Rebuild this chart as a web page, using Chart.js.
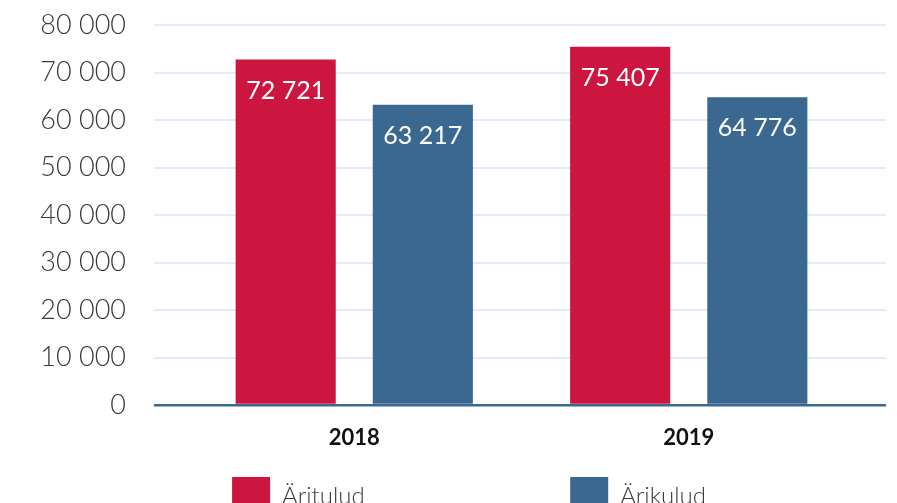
<!DOCTYPE html>
<html>
<head>
<meta charset="utf-8">
<script src="https://cdn.jsdelivr.net/npm/chart.js@4/dist/chart.umd.min.js"></script>
<style>
  html, body { margin: 0; padding: 0; background: #fff; overflow: hidden; }
  #wrap { width: 897px; height: 525px; position: relative; }
</style>
</head>
<body>
<div id="wrap"><canvas id="chart"></canvas></div>
<script>
const years = ['2018', '2019'];
const aritulud = [72721, 75407];
const arikulud = [63217, 64776];
const seriesNames = ['Äritulud', 'Ärikulud'];
const yMax = 80000;
const yStep = 10000;

const RED = '#cc1640';
const BLUE = '#3b6891';
const GRID = '#e1ebf7';

const fmt = v => String(v).replace(/\B(?=(\d{3})+(?!\d))/g, ' ');

const gridColor = c => (c.tick && c.tick.value === 0 ? BLUE : GRID);
const gridWidth = c => (c.tick && c.tick.value === 0 ? 2.5 : 2);

// white value labels inside the bar tops
const valueLabels = {
  id: 'valueLabels',
  afterDatasetsDraw(chart) {
    const ctx = chart.ctx;
    ctx.save();
    ctx.fillStyle = '#fff';
    ctx.font = '400 25px Lato';
    ctx.textAlign = 'center';
    ctx.textBaseline = 'middle';
    chart.data.datasets.forEach((ds, i) => {
      chart.getDatasetMeta(i).data.forEach((bar, j) => {
        ctx.fillText(fmt(ds.data[j]), bar.x, bar.y + 31);
      });
    });
    ctx.restore();
  }
};

const legendFont = { family: 'Lato', weight: '300', size: 24 };
// text widths the two legend entries are stretched to
const legendTextWidths = [262, 240];

new Chart(document.getElementById('chart'), {
  type: 'bar',
  data: {
    labels: years,
    datasets: [{
      label: seriesNames[0],
      data: aritulud,
      backgroundColor: RED,
      borderWidth: 0
    }, {
      label: seriesNames[1],
      data: arikulud,
      backgroundColor: BLUE,
      borderWidth: 0
    }]
  },
  options: {
    responsive: true,
    maintainAspectRatio: false,
    animation: false,
    categoryPercentage: 0.82,
    barPercentage: 0.73,
    layout: { padding: { top: 25, right: 11, left: 0, bottom: 0 } },
    scales: {
      x: {
        offset: true,
        grid: { display: false, drawTicks: false },
        border: { display: false },
        ticks: {
          padding: 20,
          color: '#111',
          font: { family: 'Lato', weight: '700', size: 22 }
        },
        afterFit: s => { s.height = 45; }
      },
      y: {
        min: 0,
        max: yMax,
        ticks: {
          stepSize: yStep,
          padding: 28,
          color: '#3a3a3a',
          font: { family: 'Lato', weight: '300', size: 27 },
          callback: v => fmt(v)
        },
        grid: { color: gridColor, lineWidth: gridWidth, tickLength: 33 },
        border: { display: false },
        afterFit: s => {
          s.width = 187;
          s.paddingTop = 0;
          s.paddingBottom = 0;
        }
      },
      y2: {
        position: 'right',
        min: 0,
        max: yMax,
        ticks: { display: false, stepSize: yStep },
        grid: { drawOnChartArea: false, color: gridColor, lineWidth: gridWidth, tickLength: 30 },
        border: { display: false },
        afterFit: s => { s.width = 30; }
      }
    },
    plugins: {
      tooltip: { enabled: false },
      legend: {
        position: 'bottom',
        align: 'end',
        labels: {
          boxWidth: 38,
          boxHeight: 38,
          padding: 27,
          color: '#3a3a3a',
          font: legendFont,
          generateLabels: chart => {
            const items = Chart.defaults.plugins.legend.labels.generateLabels(chart);
            const ctx = chart.ctx;
            ctx.save();
            ctx.font = legendFont.weight + ' ' + legendFont.size + 'px ' + legendFont.family;
            items.forEach((item, i) => {
              let t = item.text;
              while (ctx.measureText(t + '\u200a').width <= legendTextWidths[i]) t += '\u200a';
              item.text = t;
            });
            ctx.restore();
            return items;
          }
        }
      }
    }
  },
  plugins: [valueLabels]
});
</script>
</body>
</html>
